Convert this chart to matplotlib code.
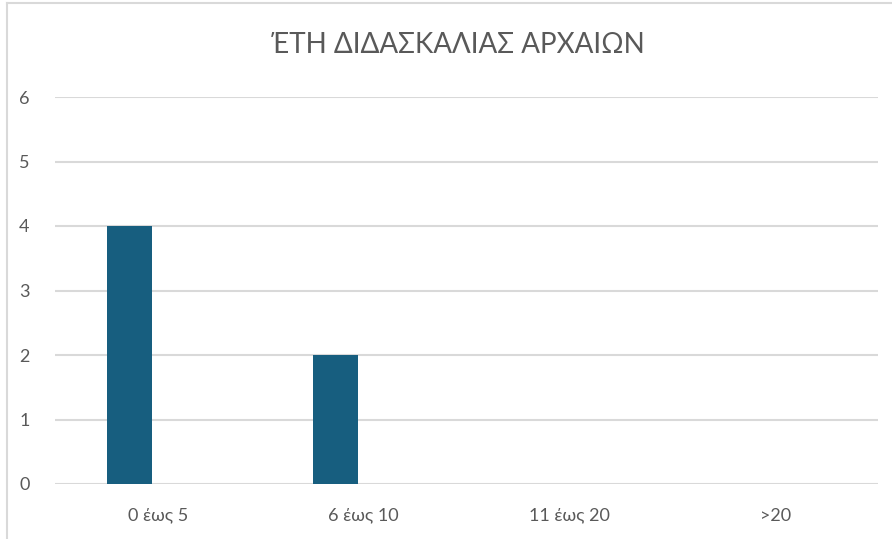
import matplotlib
matplotlib.use("Agg")
import matplotlib.pyplot as plt
from matplotlib.lines import Line2D
import numpy as np

categories = ["0 έως 5", "6 έως 10", "11 έως 20", ">20"]
values = [4, 2, 0, 0]
yticks = [0, 1, 2, 3, 4, 5, 6]
title = "ΈΤΗ ΔΙΔΑΣΚΑΛΙΑΣ ΑΡΧΑΙΩΝ"

plt.rcParams['font.family'] = ['Lato', 'DejaVu Sans']
W, H = 892, 539
fig = plt.figure(figsize=(W/100, H/100), dpi=100)
fig.patch.set_facecolor("white")

ax = fig.add_axes([55/W, 1-484/H, (878-55)/W, (484-97)/H])
x = np.arange(len(categories))
ax.bar(x - 0.138, values, width=0.22, color="#175E7F", zorder=3)
ax.set_xlim(-0.5, len(categories) - 0.5)
ax.set_ylim(0, 6)
ax.set_yticks(yticks)
ax.set_xticks(x)
ax.set_xticklabels(categories)
ax.grid(axis="y", color="#d9d9d9", linewidth=1.5, zorder=0)
for s in ax.spines.values():
    s.set_visible(False)
ax.tick_params(axis="both", length=0, labelcolor="#595959", labelsize=13)
ax.tick_params(axis="x", pad=17)
for lab in ax.get_yticklabels():
    lab.set_horizontalalignment("center")
ax.tick_params(axis="y", pad=22)

fig.text(458/W, 1-45/H, title, ha="center", va="center", fontsize=20, color="#595959")

fig.add_artist(Line2D([7/W, 7/W], [0, 1-3/H], transform=fig.transFigure, color="#d9d9d9", lw=1.5))
fig.add_artist(Line2D([7/W, 1], [1-3/H, 1-3/H], transform=fig.transFigure, color="#d9d9d9", lw=1.5))

fig.savefig("out.png", dpi=100)
